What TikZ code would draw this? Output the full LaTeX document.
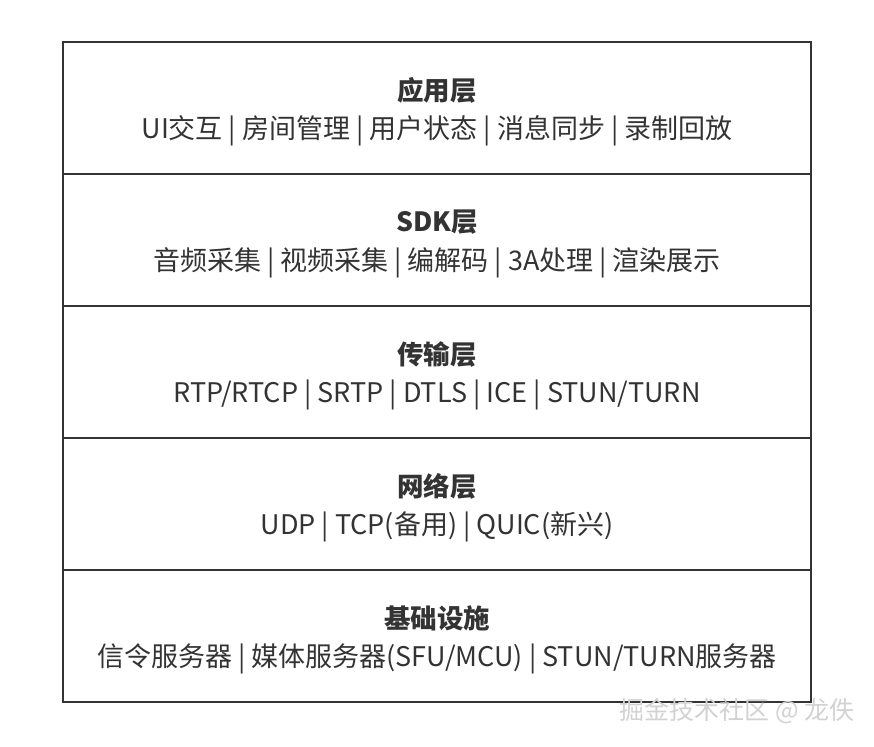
\documentclass[tikz,border=0pt]{standalone}
\usepackage{fontspec}
\setmainfont{Noto Sans CJK SC}
\definecolor{ink}{HTML}{333333}
\definecolor{wm}{HTML}{D2D2D2}
\begin{document}
\begin{tikzpicture}[x=1pt,y=-1pt,
  layerbox/.style={draw=ink,line width=2pt,minimum width=748pt,minimum height=132pt,inner sep=0pt,anchor=north west},
  titletext/.style={font=\fontsize{26.5}{30}\selectfont\bfseries,text=ink,inner sep=0pt},
  itemtext/.style={font=\fontsize{27}{30}\selectfont,text=ink,inner sep=0pt}]
\fill[white] (0,0) rectangle (874,746);
\useasboundingbox (0,0) rectangle (874,746);
\node[layerbox] (l1) at (62,41) {};
\node[layerbox] (l2) at (62,173) {};
\node[layerbox] (l3) at (62,305) {};
\node[layerbox] (l4) at (62,437) {};
\node[layerbox] (l5) at (62,569) {};
\foreach \n/\t/\s in {l1/应用层/{UI交互 | 房间管理 | 用户状态 | 消息同步 | 录制回放},
  l2/SDK层/{音频采集 | 视频采集 | 编解码 | 3A处理 | 渲染展示},
  l3/传输层/{RTP/RTCP | SRTP | DTLS | ICE | STUN/TURN},
  l4/网络层/{UDP | TCP(备用) | QUIC(新兴)},
  l5/基础设施/{信令服务器 | 媒体服务器(SFU/MCU) | STUN/TURN服务器}}{
  \node[titletext] (\n t) at ([yshift=18pt]\n.center) {\t};
  \node[itemtext] (\n s) at ([yshift=-23pt]\n.center) {\s};
}
\node[font=\fontsize{25}{28}\selectfont,text=wm,inner sep=0pt,anchor=east] (wm) at (855,711) {掘金技术社区 @ 龙佚};
\end{tikzpicture}
\end{document}
